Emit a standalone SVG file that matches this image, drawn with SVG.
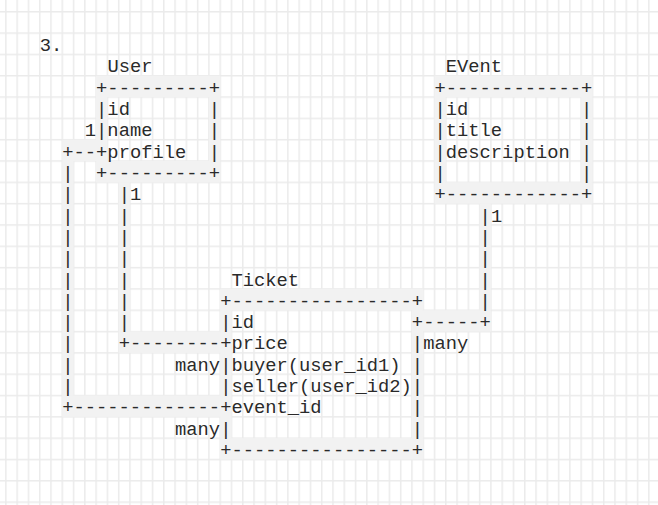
<svg xmlns="http://www.w3.org/2000/svg" width="658" height="505" viewBox="0 0 658 505">
<defs>
<pattern id="grid" patternUnits="userSpaceOnUse" x="38.95" y="32.35" width="11.28" height="21.32">
<rect width="11.28" height="21.32" fill="#ffffff"/>
<rect x="0" y="0" width="1.5" height="21.32" fill="#ebebeb"/>
<rect x="0" y="0" width="11.28" height="1.5" fill="#ebebeb"/>
</pattern>
</defs>
<style>
text{font-family:"Liberation Mono","Courier New",monospace;font-size:18.8px;fill:#2a2a2a;white-space:pre;}
.hl{fill:#f2f2f2;}
</style>
<rect width="658" height="505" fill="url(#grid)"/>
<text x="39.7" y="51">3.</text>

<g id="user">
<rect class="hl" x="96.1" y="75.74" width="124.08" height="21.32"/>
<rect class="hl" x="96.1" y="161.02" width="124.08" height="21.32"/>
<rect class="hl" x="96.1" y="97.06" width="11.28" height="63.96"/>
<rect class="hl" x="208.9" y="97.06" width="11.28" height="63.96"/>
<text x="107.38" y="72.32">User</text>
<text x="96.1" y="93.64">+---------+</text>
<text x="96.1" y="114.96" xml:space="preserve">|id       |</text>
<text x="96.1" y="136.28" xml:space="preserve">|name     |</text>
<text x="96.1" y="157.6" xml:space="preserve">+profile  |</text>
<text x="96.1" y="178.92">+---------+</text>
</g>

<g id="event">
<rect class="hl" x="434.5" y="75.74" width="157.92" height="21.32"/>
<rect class="hl" x="434.5" y="182.34" width="157.92" height="21.32"/>
<rect class="hl" x="434.5" y="97.06" width="11.28" height="85.28"/>
<rect class="hl" x="581.14" y="97.06" width="11.28" height="85.28"/>
<text x="445.78" y="72.32">EVent</text>
<text x="434.5" y="93.64">+------------+</text>
<text x="434.5" y="114.96" xml:space="preserve">|id          |</text>
<text x="434.5" y="136.28" xml:space="preserve">|title       |</text>
<text x="434.5" y="157.6" xml:space="preserve">|description |</text>
<text x="434.5" y="178.92" xml:space="preserve">|            |</text>
<text x="434.5" y="200.24">+------------+</text>
</g>

<g id="ticket">
<rect class="hl" x="220.18" y="288.94" width="203.04" height="21.32"/>
<rect class="hl" x="220.18" y="438.18" width="203.04" height="21.32"/>
<rect class="hl" x="220.18" y="310.26" width="11.28" height="127.92"/>
<rect class="hl" x="411.94" y="310.26" width="11.28" height="127.92"/>
<text x="231.46" y="285.52">Ticket</text>
<text x="220.18" y="306.84">+----------------+</text>
<text x="220.18" y="328.16" xml:space="preserve">|id              +</text>
<text x="220.18" y="349.48" xml:space="preserve">+price           |</text>
<text x="220.18" y="370.8" xml:space="preserve">|buyer(user_id1) |</text>
<text x="220.18" y="392.12">|seller(user_id2)|</text>
<text x="220.18" y="413.44" xml:space="preserve">+event_id        |</text>
<text x="220.18" y="434.76" xml:space="preserve">|                |</text>
<text x="220.18" y="456.08">+----------------+</text>
</g>

<g id="connectors">
<g id="user-ticket-event">
<rect class="hl" x="62.26" y="139.7" width="33.84" height="21.32"/>
<rect class="hl" x="62.26" y="161.02" width="11.28" height="234.52"/>
<rect class="hl" x="62.26" y="395.54" width="157.92" height="21.32"/>
<text x="84.82" y="136.28">1</text>
<text x="62.26" y="157.6">+--</text>
<text x="62.26" y="178.92">|</text>
<text x="62.26" y="200.24">|</text>
<text x="62.26" y="221.56">|</text>
<text x="62.26" y="242.88">|</text>
<text x="62.26" y="264.2">|</text>
<text x="62.26" y="285.52">|</text>
<text x="62.26" y="306.84">|</text>
<text x="62.26" y="328.16">|</text>
<text x="62.26" y="349.48">|</text>
<text x="62.26" y="370.8">|</text>
<text x="62.26" y="392.12">|</text>
<text x="62.26" y="413.44">+-------------</text>
<text x="175.06" y="434.76">many</text>
</g>
<g id="user-ticket-price">
<rect class="hl" x="118.66" y="182.34" width="11.28" height="149.24"/>
<rect class="hl" x="118.66" y="331.58" width="101.52" height="21.32"/>
<text x="118.66" y="200.24">|1</text>
<text x="118.66" y="221.56">|</text>
<text x="118.66" y="242.88">|</text>
<text x="118.66" y="264.2">|</text>
<text x="118.66" y="285.52">|</text>
<text x="118.66" y="306.84">|</text>
<text x="118.66" y="328.16">|</text>
<text x="118.66" y="349.48">+--------</text>
<text x="175.06" y="370.8">many</text>
</g>
<g id="event-ticket">
<rect class="hl" x="479.62" y="203.66" width="11.28" height="106.6"/>
<rect class="hl" x="423.22" y="310.26" width="67.68" height="21.32"/>
<text x="479.62" y="221.56">|1</text>
<text x="479.62" y="242.88">|</text>
<text x="479.62" y="264.2">|</text>
<text x="479.62" y="285.52">|</text>
<text x="479.62" y="306.84">|</text>
<text x="423.22" y="328.16">-----+</text>
<text x="423.22" y="349.48">many</text>
</g>
</g>
</svg>
